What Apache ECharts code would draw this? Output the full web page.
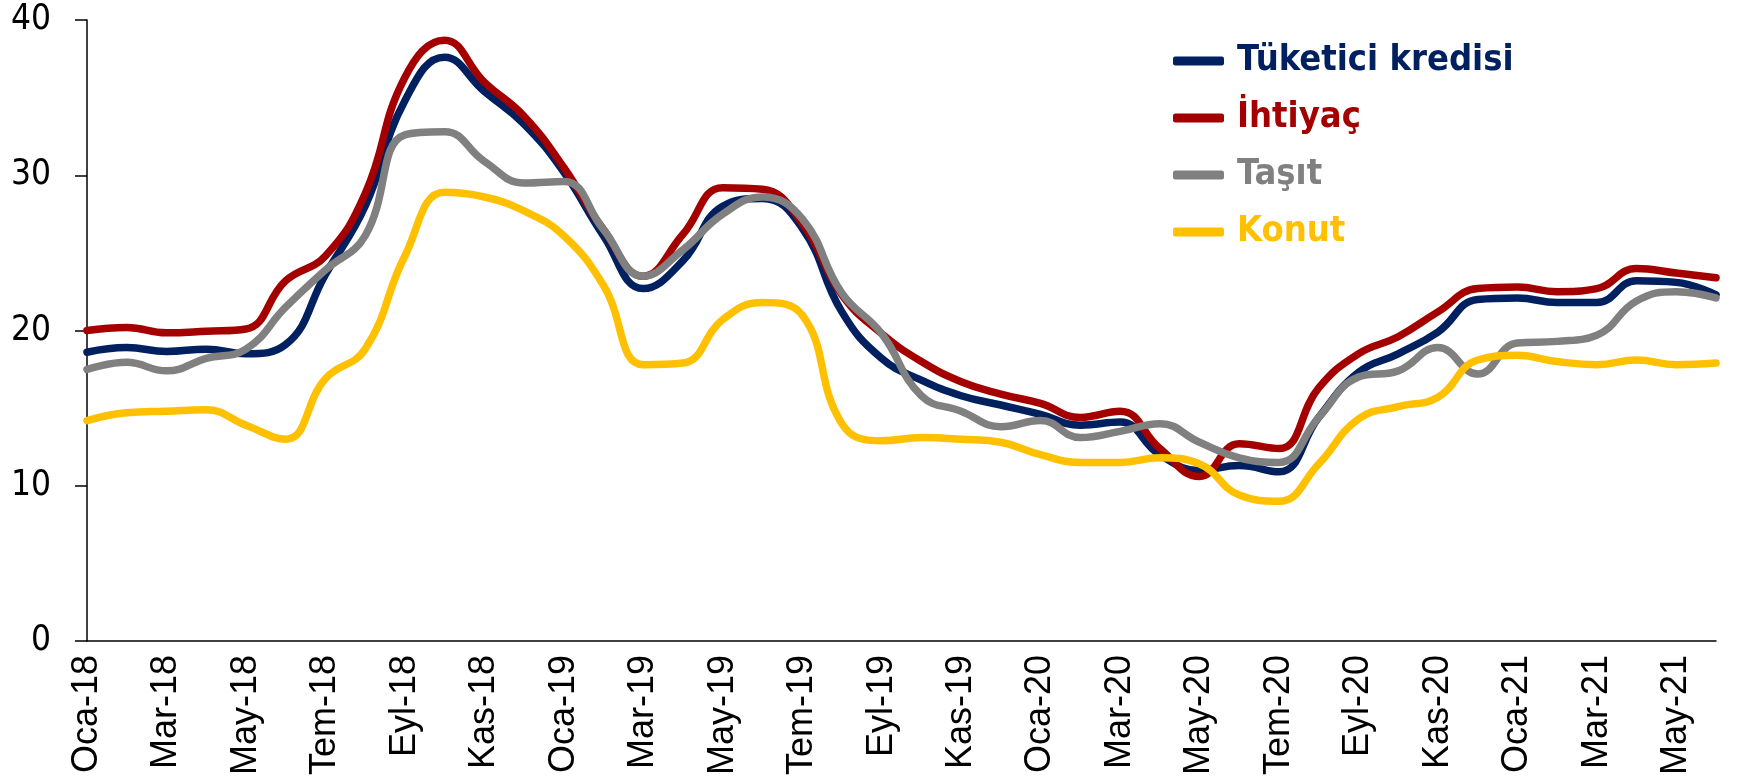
<!DOCTYPE html>
<html>
<head>
<meta charset="utf-8">
<script src="https://cdn.jsdelivr.net/npm/echarts@6/dist/echarts.min.js"></script>
<style>
html,body{margin:0;padding:0;background:#fff;}
#chart{width:1762px;height:782px;}
</style>
</head>
<body>
<div id="chart"></div>
<script>
const months = ['Oca-18','Şub-18','Mar-18','Nis-18','May-18','Haz-18','Tem-18','Ağu-18','Eyl-18','Eki-18','Kas-18','Ara-18',
 'Oca-19','Şub-19','Mar-19','Nis-19','May-19','Haz-19','Tem-19','Ağu-19','Eyl-19','Eki-19','Kas-19','Ara-19',
 'Oca-20','Şub-20','Mar-20','Nis-20','May-20','Haz-20','Tem-20','Ağu-20','Eyl-20','Eki-20','Kas-20','Ara-20',
 'Oca-21','Şub-21','Mar-21','Nis-21','May-21','Haz-21'];

const tuketici = [18.6,18.9,18.65,18.8,18.5,19.1,23.6,28.0,34.8,37.6,35.4,33.3,
 30.2,26.1,22.7,24.5,28.0,28.5,26.6,21.2,18.2,16.8,15.8,15.2,
 14.6,13.9,14.1,12.0,11.0,11.3,10.9,14.4,17.3,18.5,19.9,22.0,
 22.1,21.8,21.8,23.2,23.1,22.3];

const ihtiyac = [20.0,20.2,19.85,19.95,20.1,23.2,24.8,28.8,36.3,38.7,36.0,33.8,
 30.5,26.5,23.5,26.2,29.2,29.1,26.9,22.3,19.8,18.0,16.7,15.9,
 15.3,14.4,14.8,12.4,10.6,12.7,12.4,16.3,18.5,19.6,21.2,22.7,
 22.8,22.5,22.7,24.0,23.7,23.4];

const tasit = [17.5,17.95,17.4,18.2,18.8,21.5,23.9,26.1,32.6,32.8,30.9,29.5,
 29.6,26.5,23.5,25.2,27.5,28.6,27.2,22.4,19.8,15.8,14.8,13.8,
 14.2,13.1,13.5,14.0,12.8,11.8,11.5,14.4,17.0,17.4,18.9,17.2,
 19.2,19.3,19.7,21.9,22.5,22.1];

const konut = [14.2,14.7,14.8,14.9,13.9,13.0,16.9,18.8,24.8,28.9,28.6,27.7,
 26.1,22.9,17.8,17.9,20.7,21.8,21.0,14.0,12.9,13.1,13.0,12.8,
 12.0,11.5,11.5,11.8,11.4,9.4,9.0,11.4,14.3,15.1,15.7,18.1,
 18.4,18.0,17.8,18.1,17.8,17.9];

const seriesNames = ['Tüketici kredisi','İhtiyaç','Taşıt','Konut'];
const seriesColors = ['#002060','#A50000','#808080','#FFC000'];
const seriesData = [tuketici, ihtiyac, tasit, konut];

const chart = echarts.init(document.getElementById('chart'), null, {renderer:'canvas'});
chart.setOption({
  animation: false,
  backgroundColor: '#ffffff',
  grid: {left: 87, right: 46, top: 20, bottom: 141},
  legend: {
    orient: 'vertical',
    left: 1168,
    top: 36,
    itemWidth: 51,
    itemHeight: 9,
    itemGap: 17,
    icon: 'roundRect',
    textStyle: {
      fontFamily: '"DejaVu Sans Condensed","DejaVu Sans",sans-serif',
      fontWeight: 'bold',
      fontSize: 36,
      lineHeight: 40,
      padding: [0,0,0,8]
    },
    data: seriesNames.map((n,i)=>({name:n, textStyle:{color:seriesColors[i]}}))
  },
  xAxis: {
    type: 'category',
    data: months,
    boundaryGap: false,
    axisLine: {lineStyle: {color:'#000', width:1.5}},
    axisTick: {show:false},
    axisLabel: {
      interval: 1,
      rotate: 90,
      margin: 14,
      color: '#000',
      fontSize: 36,
      fontFamily: '"Liberation Sans",Arial,sans-serif'
    },
    splitLine: {show:false}
  },
  yAxis: {
    type: 'value',
    min: 0, max: 40, interval: 10,
    axisLine: {show:true, lineStyle: {color:'#000', width:1.5}},
    axisTick: {show:true, length:12, lineStyle:{color:'#000', width:1.5}},
    axisLabel: {
      margin: 36,
      color: '#000',
      fontSize: 35,
      fontFamily: '"DejaVu Sans Condensed","DejaVu Sans",sans-serif'
    },
    splitLine: {show:false}
  },
  series: seriesNames.map((n,i)=>({
    name: n,
    type: 'line',
    data: seriesData[i],
    smooth: 0.45,
    symbol: 'none',
    lineStyle: {color: seriesColors[i], width: 7.5, cap: 'round', join: 'round'},
    itemStyle: {color: seriesColors[i]}
  }))
});
</script>
</body>
</html>
